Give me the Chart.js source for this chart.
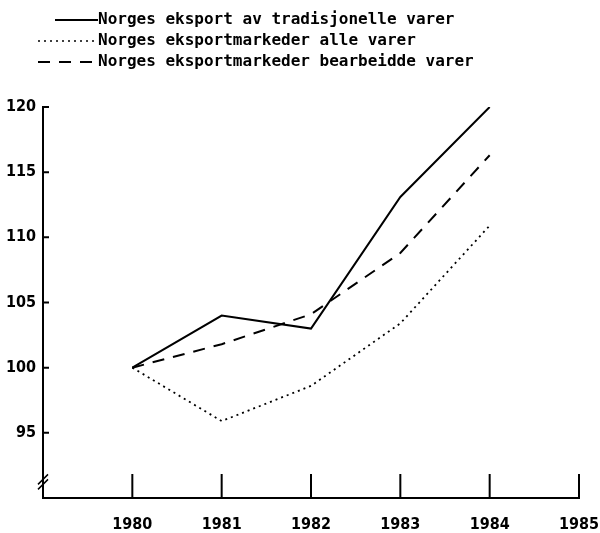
<!DOCTYPE html>
<html>
<head>
<meta charset="utf-8">
<script src="https://cdn.jsdelivr.net/npm/chart.js@4"></script>
<style>
  html, body { margin: 0; padding: 0; background: #fff; }
  #wrap { width: 600px; height: 533px; }
</style>
</head>
<body>
<div id="wrap"><canvas id="chart" width="600" height="533"></canvas></div>
<script>
const years = [1980, 1981, 1982, 1983, 1984];
const tradisjonelle = [100, 104, 103, 113.1, 120];
const alleVarer = [100, 95.9, 98.6, 103.4, 110.9];
const bearbeidde = [100, 101.8, 104.1, 108.8, 116.3];
const seriesNames = [
  "Norges eksport av tradisjonelle varer",
  "Norges eksportmarkeder alle varer",
  "Norges eksportmarkeder bearbeidde varer"
];
const xTicks = [1980, 1981, 1982, 1983, 1984, 1985];
const yTicks = [95, 100, 105, 110, 115, 120];
const yBreak = 91.2;

const dashes = [[], [2, 4], [12, 9]];

function toPoints(vals) {
  return vals.map((v, i) => ({ x: years[i], y: v }));
}

// axis ticks pointing inward, axis break and legend
const decor = {
  id: "decor",
  afterDraw(chart) {
    const ctx = chart.ctx;
    const xs = chart.scales.x;
    const ys = chart.scales.y;
    const left = chart.chartArea.left;
    const bottom = chart.chartArea.bottom;
    ctx.save();
    ctx.strokeStyle = "#000";
    ctx.lineWidth = 2;
    ctx.beginPath();
    for (const t of yTicks) {
      const py = ys.getPixelForValue(t);
      ctx.moveTo(left, py);
      ctx.lineTo(left + 6, py);
    }
    for (const t of xTicks) {
      const px = xs.getPixelForValue(t);
      ctx.moveTo(px, bottom);
      ctx.lineTo(px, bottom - 24);
    }
    ctx.stroke();

    // break marks
    const by = ys.getPixelForValue(yBreak);
    ctx.lineWidth = 1.5;
    ctx.beginPath();
    ctx.moveTo(left - 5, by + 2);
    ctx.lineTo(left + 5, by - 8);
    ctx.moveTo(left - 5, by + 7);
    ctx.lineTo(left + 5, by - 3);
    ctx.stroke();

    // legend
    ctx.font = "bold 16px 'DejaVu Sans Mono'";
    ctx.fillStyle = "#000";
    ctx.textBaseline = "middle";
    seriesNames.forEach((name, i) => {
      const y = 20 + i * 21;
      ctx.setLineDash(dashes[i]);
      ctx.lineWidth = i === 1 ? 1.5 : 2;
      ctx.beginPath();
      ctx.moveTo(i === 0 ? 55 : 38, y);
      ctx.lineTo(98, y);
      ctx.stroke();
      ctx.setLineDash([]);
      ctx.fillText(name, 98, y);
    });
    ctx.restore();
  }
};

new Chart(document.getElementById("chart"), {
  type: "line",
  data: {
    datasets: [
      { label: seriesNames[0], data: toPoints(tradisjonelle), borderDash: dashes[0], borderWidth: 2 },
      { label: seriesNames[1], data: toPoints(alleVarer), borderDash: dashes[1], borderWidth: 1.8 },
      { label: seriesNames[2], data: toPoints(bearbeidde), borderDash: dashes[2], borderWidth: 2 }
    ].map(d => Object.assign(d, { borderColor: "#000", pointRadius: 0, tension: 0, fill: false }))
  },
  options: {
    responsive: false,
    animation: false,
    layout: { padding: { top: 107, right: 0, left: 0, bottom: 0 } },
    plugins: { legend: { display: false }, tooltip: { enabled: false } },
    scales: {
      x: {
        type: "linear",
        min: 1979,
        max: 1985,
        afterFit: s => { s.height = 35; s.paddingRight = 21; s.paddingLeft = 0; },
        border: { display: true, color: "#000", width: 2 },
        grid: { display: false, drawTicks: false },
        ticks: {
          stepSize: 1,
          padding: 17,
          color: "#000",
          font: { family: "DejaVu Sans Condensed", size: 16, weight: "bold" },
          callback: v => xTicks.includes(v) ? String(v) : ""
        }
      },
      y: {
        min: 90,
        max: 120,
        afterFit: s => { s.width = 43; },
        border: { display: true, color: "#000", width: 2 },
        grid: { display: false, drawTicks: false },
        ticks: {
          stepSize: 5,
          padding: 7,
          color: "#000",
          font: { family: "DejaVu Sans Condensed", size: 16, weight: "bold" },
          callback: v => yTicks.includes(v) ? String(v) : ""
        }
      }
    }
  },
  plugins: [decor]
});
</script>
</body>
</html>
